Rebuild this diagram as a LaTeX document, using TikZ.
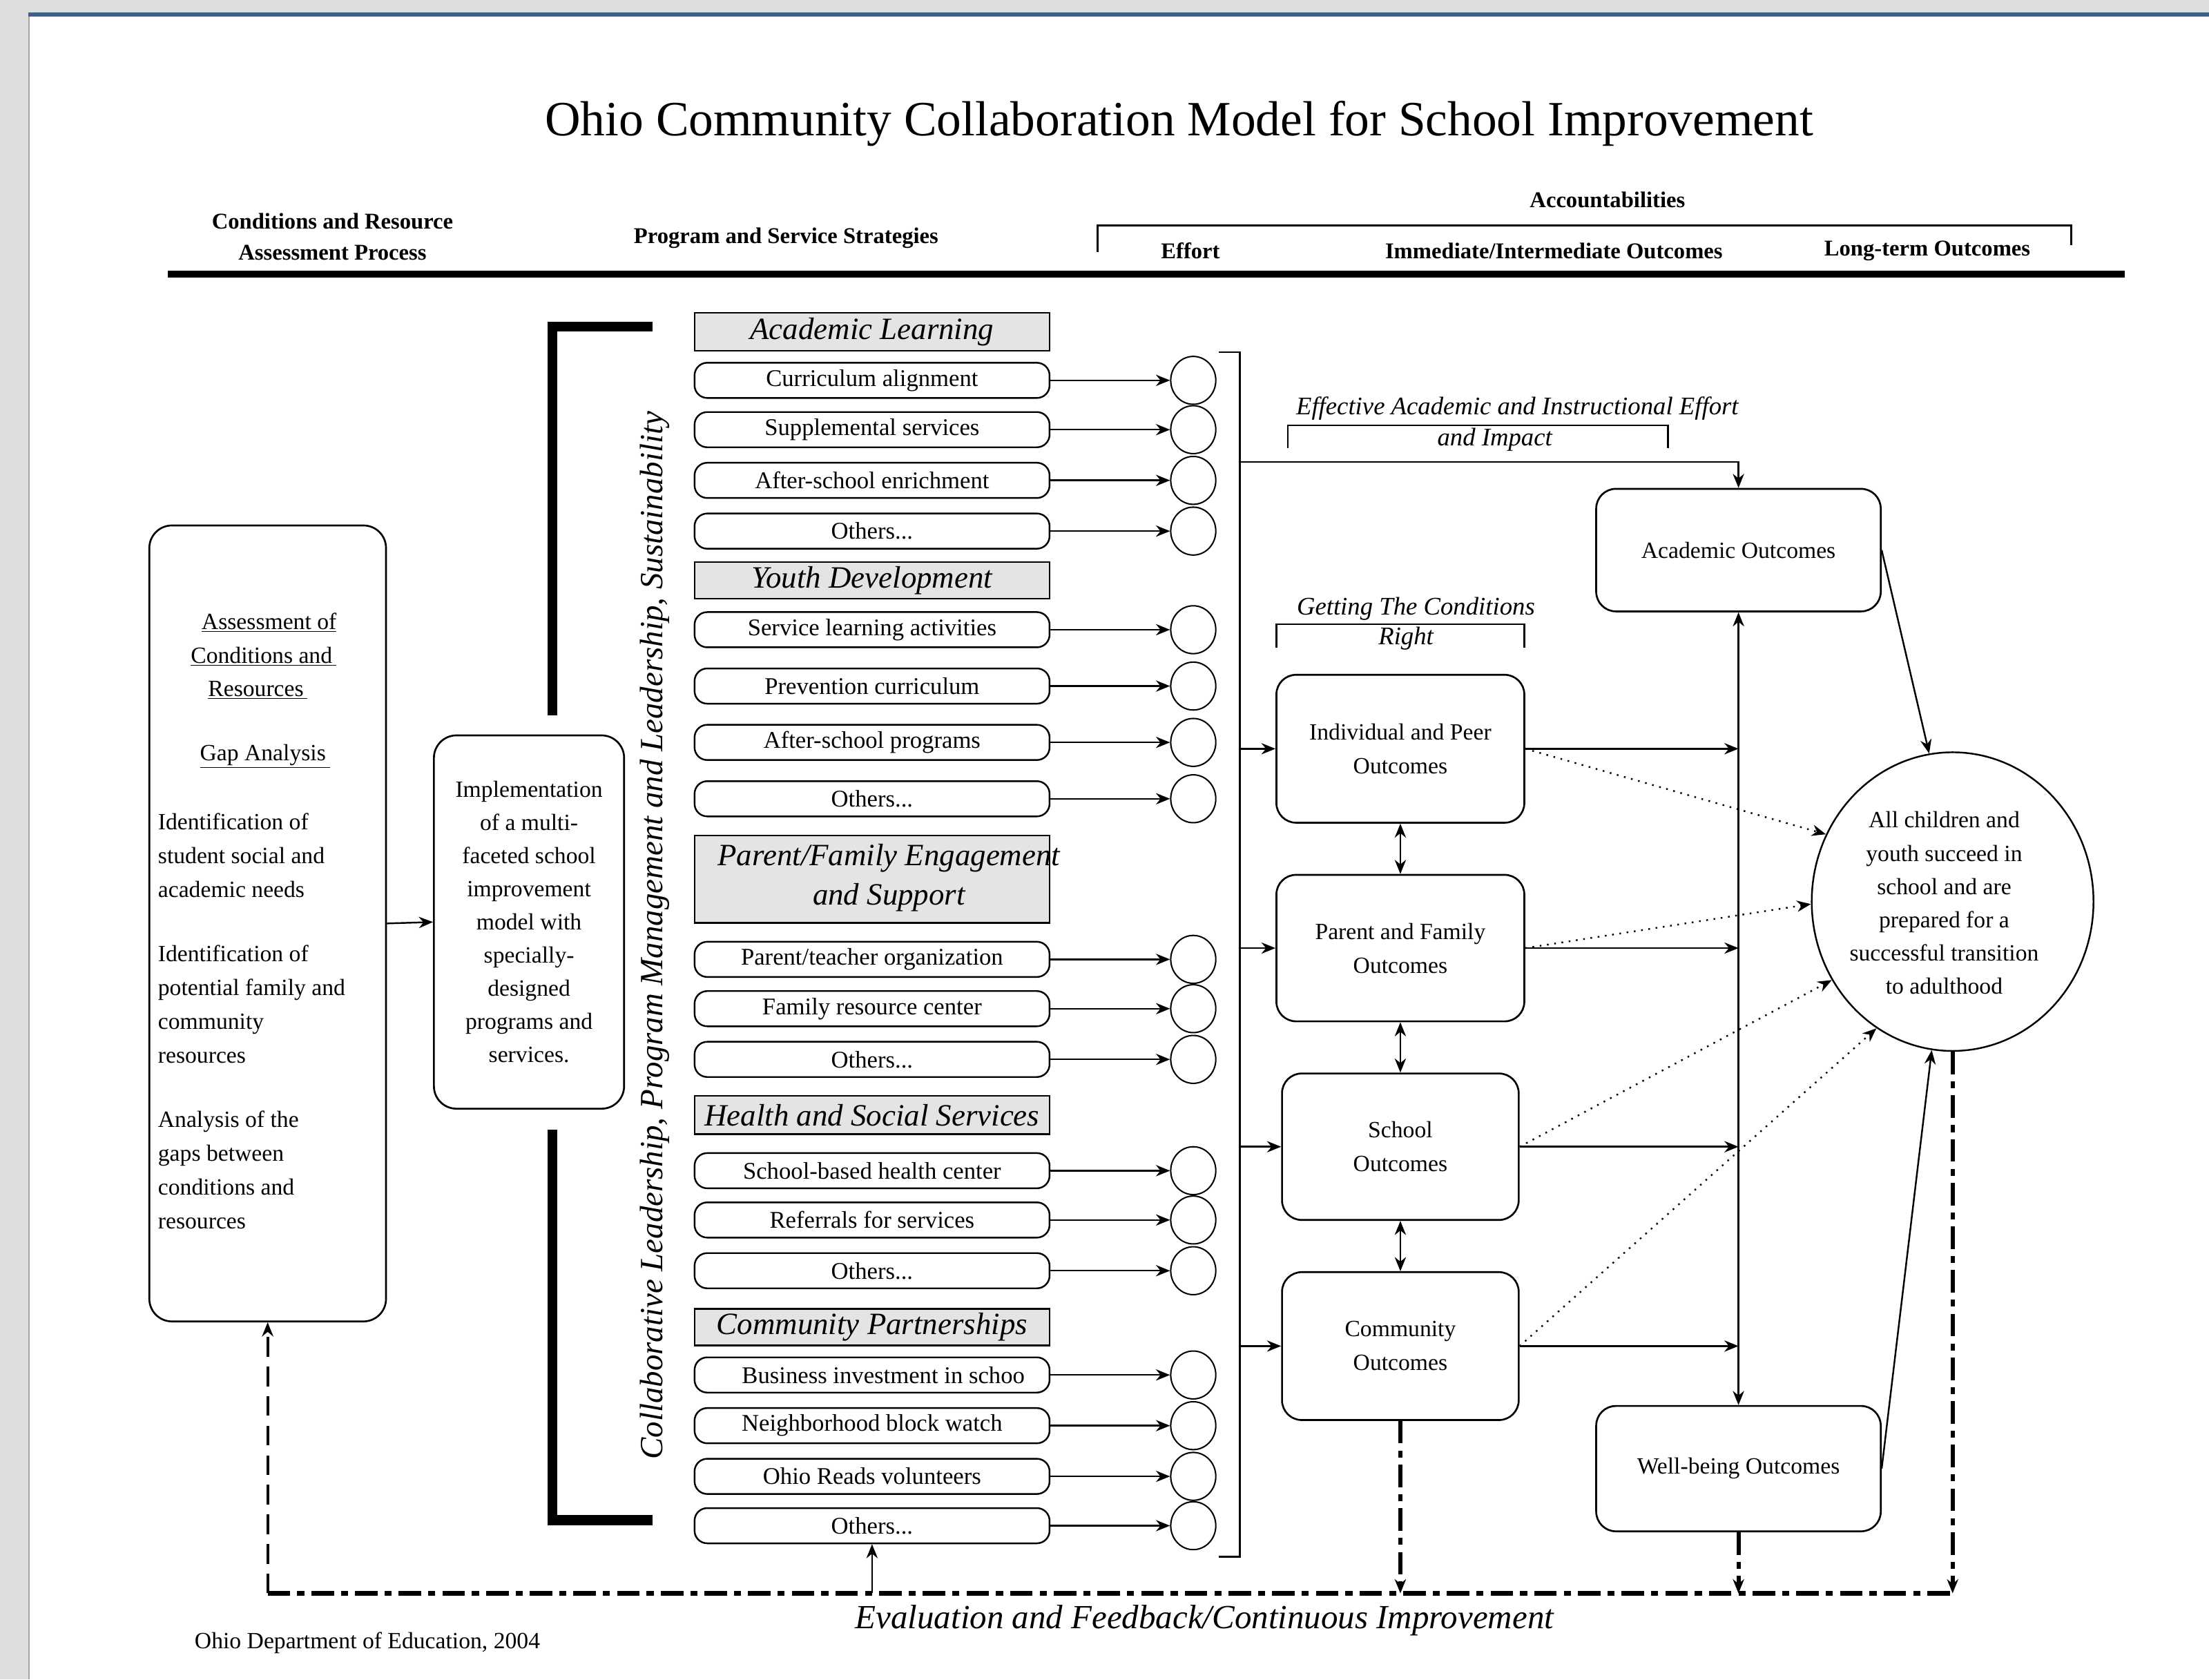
\documentclass[tikz,border=0pt]{standalone}
\usepackage{fontspec}
\setmainfont{Liberation Serif}
\usetikzlibrary{arrows.meta,shapes.geometric,calc}
\definecolor{bggray}{HTML}{DEDEDE}
\definecolor{topblue}{HTML}{3C5F8C}
\definecolor{catgray}{HTML}{E4E4E4}
\newcommand\fsz[2]{\fontsize{#1}{#2}\selectfont}
\begin{document}
\begin{tikzpicture}[x=1pt,y=-1pt,
  every node/.style={inner sep=0pt},
  arr/.style={-{Stealth[length=10pt,width=8pt]}},
  darr/.style={{Stealth[length=10pt,width=8pt]}-{Stealth[length=10pt,width=8pt]}},
  itembox/.style={draw,line width=1.2pt,rounded corners=9pt,minimum width=252pt,minimum height=25pt,font=\fsz{17}{20}},
  cathead/.style={draw,line width=1.2pt,fill=catgray,minimum width=252pt,font=\itshape\fsz{22}{28}},
  circ/.style={draw,ellipse,line width=1pt,minimum width=32pt,minimum height=34pt},
  outbox/.style={draw,line width=1.3pt,rounded corners=14pt,align=center,font=\fsz{16.5}{24}},
  hdr/.style={font=\bfseries\fsz{16}{22},align=center},
  ltext/.style={font=\fsz{16.5}{24}},
  itext/.style={font=\itshape\fsz{18}{22}},
  conn/.style={line width=1.2pt},
  dots/.style={line width=1.2pt,dash pattern=on 1.2pt off 4pt},
  fb/.style={line width=3pt,dash pattern=on 16pt off 5pt on 5pt off 5pt},
]
% page background
\fill[bggray] (0,0) rectangle (1568,1192);
\fill[white] (21,12) rectangle (1568,1192);
\fill[topblue] (20,9) rectangle (1568,12);
\draw[gray!70,line width=1pt] (20.5,12) -- (20.5,1192);
\useasboundingbox (0,0) rectangle (1568,1192);

% title and headers
\node[font=\fsz{35}{40}] (title) at (837,88) {Ohio Community Collaboration Model for School Improvement};
\node[hdr] (hcond) at (236,168) {Conditions and Resource\\Assessment Process};
\node[hdr] (hprog) at (558,169) {Program and Service Strategies};
\node[hdr] (hacc) at (1141,142) {Accountabilities};
\node[hdr] (heff) at (845,178) {Effort};
\node[hdr] (himm) at (1103,178) {Immediate/Intermediate Outcomes};
\node[hdr] (hlong) at (1368,178) {Long-term Outcomes};
\draw[line width=1.5pt] (779,179) -- (779,160) -- (1470,160) -- (1470,174);
\fill (119,192) rectangle (1508,197);

% left assessment box
\node[draw,line width=1.3pt,rounded corners=16pt,minimum width=168pt,minimum height=565pt] (assess) at (190,655.5) {};
\node[ltext] (as1) at (191,442) {\underline{Assessment of}};
\node[ltext] (as2) at (187,466) {\underline{Conditions and\,}};
\node[ltext] (as3) at (183,490) {\underline{Resources\,}};
\node[ltext] (gap) at (188,537) {\underline{Gap Analysis\,}};
\node[ltext,anchor=west,align=left] (p1) at (112,607) {Identification of\\student social and\\academic needs};
\node[ltext,anchor=west,align=left] (p2) at (112,712.75) {Identification of\\potential family and\\community\\resources};
\node[ltext,anchor=west,align=left] (p3) at (112,830.5) {Analysis of the\\gaps between\\conditions and\\resources};

% implementation box
\node[draw,line width=1.3pt,rounded corners=16pt,minimum width=135pt,minimum height=265pt,align=center,font=\fsz{16.5}{23.5}] (impl) at (375.5,654.5) {Implementation\\of a multi-\\faceted school\\improvement\\model with\\specially-\\designed\\programs and\\services.};
\draw[conn,arr] (assess.east) -- (impl.west);

% thick bracket
\draw[line width=7pt] (463,232) -- (392,232) -- (392,508);
\draw[line width=7pt] (392,802) -- (392,1079) -- (463,1079);
\node[rotate=90,font=\itshape\fsz{23}{28}] (collab) at (465,664) {Collaborative Leadership, Program Management and Leadership, Sustainability};

% category headers
\node[cathead,minimum height=27pt] (catA) at (619,235.5) {Academic Learning};
\node[cathead,minimum height=26pt] (catY) at (619,412) {Youth Development};
\node[cathead,minimum height=62pt] (catP) at (619,624) {};
\node[font=\itshape\fsz{22}{28},align=center] (catPt) at (631,623) {Parent/Family Engagement\\and Support};
\node[cathead,minimum height=27pt] (catH) at (619,791.5) {Health and Social Services};
\node[cathead,minimum height=26pt] (catC) at (619,942) {Community Partnerships};

% items and circles
\foreach \k/\yy/\txt in {
  1/270/{Curriculum alignment},
  2/305/{Supplemental services},
  3/341/{After-school enrichment},
  4/377/{Others...},
  5/447/{Service learning activities},
  6/487/{Prevention curriculum},
  7/527/{After-school programs},
  8/567/{Others...},
  9/681/{Parent/teacher organization},
  10/716/{Family resource center},
  11/752/{Others...},
  12/831/{School-based health center},
  13/866/{Referrals for services},
  14/902/{Others...},
  15/976/{\hspace*{16pt}Business investment in schoo},
  16/1012/{Neighborhood block watch},
  17/1048/{Ohio Reads volunteers},
  18/1083/{Others...}}{
  \node[itembox] (i\k) at (619,\yy) {\txt};
  \node[circ] (c\k) at (847,\yy) {};
  \draw[conn,arr] (i\k) -- (c\k);
}

% right bracket
\coordinate (bt) at (880,250);
\coordinate (bb) at (880,1105);
\draw[conn] (865,250) -- (bt) -- (bb) -- (865,1105);
\coordinate (acsplit) at (880,328);

% outcome boxes
\node[outbox,minimum width=176pt,minimum height=105pt] (ind) at (994,531.5) {Individual and Peer\\Outcomes};
\node[outbox,minimum width=176pt,minimum height=104pt] (par) at (994,673) {Parent and Family\\Outcomes};
\node[outbox,minimum width=168pt,minimum height=104pt] (sch) at (994,814) {School\\Outcomes};
\node[outbox,minimum width=168pt,minimum height=105pt] (com) at (994,955.5) {Community\\Outcomes};
\node[outbox,minimum width=202pt,minimum height=87pt] (acad) at (1234,390.5) {Academic Outcomes};
\node[outbox,minimum width=202pt,minimum height=89pt] (well) at (1234,1042.5) {Well-being Outcomes};

% labels with brackets
\node[itext] (eff1) at (1077,290) {Effective Academic and Instructional Effort};
\node[itext] (eff2) at (1061,312) {and Impact};
\draw[conn] (914,318) -- (914,302) -- (1184,302) -- (1184,318);
\node[itext] (get1) at (1005,432) {Getting The Conditions};
\node[itext] (get2) at (998,453) {Right};
\draw[conn] (906,460) -- (906,443) -- (1082,443) -- (1082,460);

% connectors into outcomes
\draw[conn,arr] (acsplit) -| (acad.north);
\foreach \b in {ind,par,sch,com} {
  \draw[conn,arr] (bt |- \b.west) -- (\b.west);
  \draw[conn,arr] (\b.east) -- (\b.east -| acad.south);
}
\draw[conn,darr] (ind.south) -- (par.north);
\draw[conn,darr] (par.south) -- (sch.north);
\draw[conn,darr] (sch.south) -- (com.north);
\draw[conn,darr] (acad.south) -- (well.north);

% goal
\node[draw,ellipse,line width=1.2pt,minimum width=200pt,minimum height=212pt] (goal) at (1386,640) {};
\node[align=center,font=\fsz{16.5}{23.6}] (goalt) at (1380,641) {All children and\\youth succeed in\\school and are\\prepared for a\\successful transition\\to adulthood};
\draw[conn,arr] (acad.east) -- (goal.99);
\draw[conn,arr] (well.east) -- (goal.262);
\draw[dots,arr] (ind.east) -- (goal.152);
\draw[dots,arr] (par.east) -- (goal.181);
\draw[dots,arr] (sch.east) -- (goal.213);
\draw[dots,arr] (com.east) -- (goal.239);

% feedback loop
\coordinate (fbL) at (190,1131);
\coordinate (fbR) at (1386,1131);
\draw[fb] (fbL) -- (fbR);
\draw[line width=2pt,dash pattern=on 14pt off 7pt,arr] (fbL) -- (assess.south);
\draw[conn,arr] (i18.south |- fbL) -- (i18.south);
\draw[fb,arr] (com.south) -- (com.south |- fbL);
\draw[fb,arr] (well.south) -- (well.south |- fbL);
\draw[fb,arr] (goal.south) -- (fbR);
\node[font=\itshape\fsz{24}{28}] (evalt) at (855,1150) {Evaluation and Feedback/Continuous Improvement};
\node[font=\fsz{16.5}{20},anchor=west] (odeb) at (138,1166) {Ohio Department of Education, 2004};
\end{tikzpicture}
\end{document}
